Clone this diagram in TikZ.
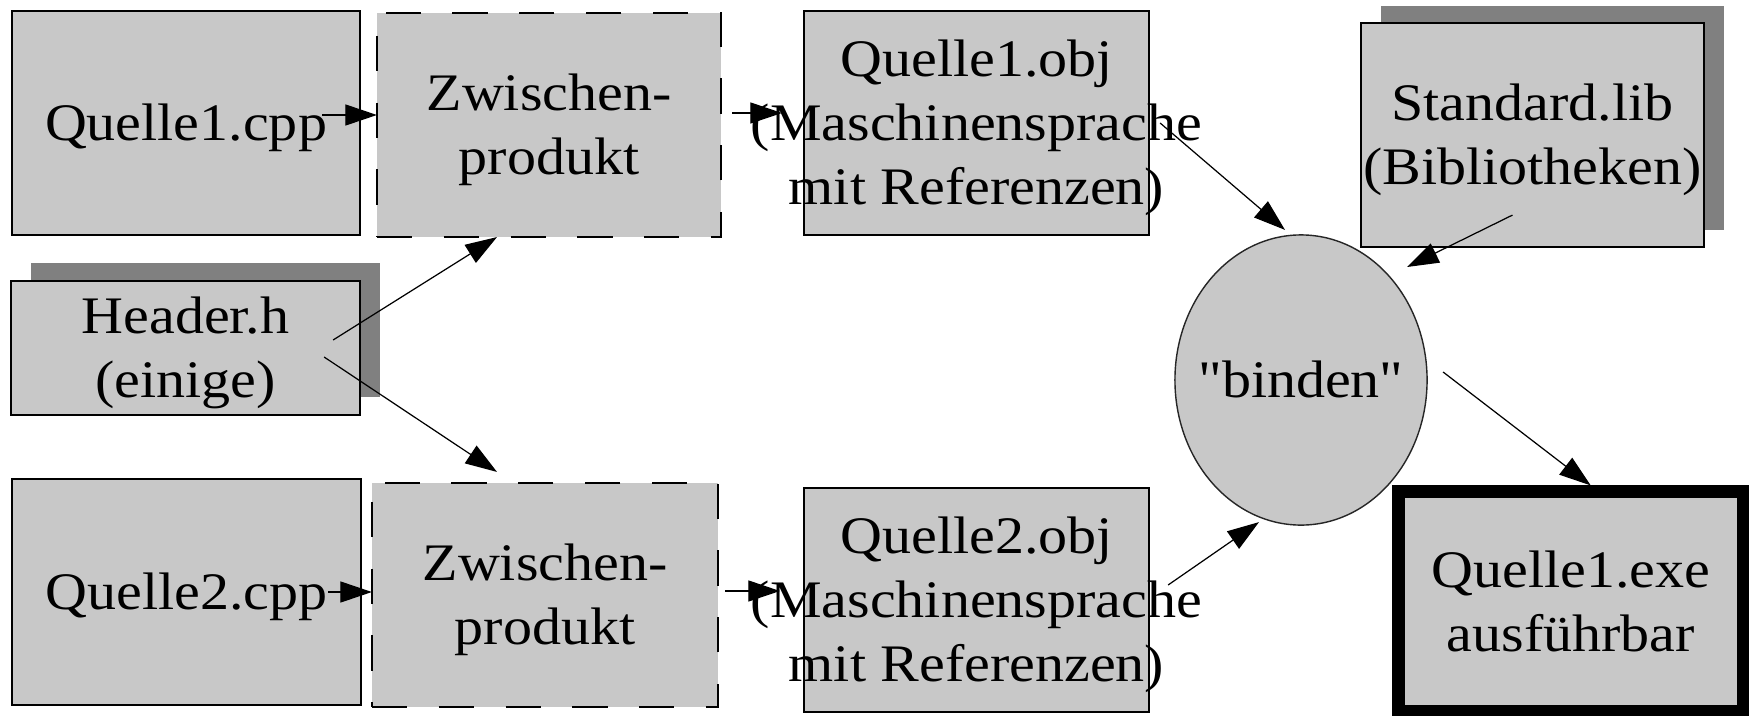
\documentclass[tikz,border=0pt]{standalone}
\usepackage{fontspec}
\setmainfont{Liberation Serif}[FakeStretch=1.1]
\newfontfamily\plainserif{Liberation Serif}[FakeStretch=1.1]
\usetikzlibrary{arrows.meta,shapes.geometric,calc}
\definecolor{boxgray}{RGB}{200,200,200}
\definecolor{shadowgray}{RGB}{128,128,128}
\newcommand\lnstrut{\rule[-3.7pt]{0pt}{17.35pt}}
\begin{document}
\begin{tikzpicture}[x=0.01cm,y=-0.01cm,
  every node/.style={font=\fontsize{15pt}{18.2pt}\selectfont, align=center, inner sep=0pt, outer sep=0pt},
  box/.style={rectangle, draw=black, line width=0.6pt, fill=boxgray},
  dashbox/.style={box, dash pattern=on 10pt off 9pt},
  shadowbox/.style={rectangle, fill=shadowgray, draw=none},
  exebox/.style={rectangle, draw=black, line width=3.7pt, fill=boxgray},
  bindshape/.style={ellipse, draw=black!85, line width=0.4pt, fill=boxgray},
  arr/.style={-{Triangle[length=9pt,width=6pt]}, line width=0.35pt}
]
\fill[white] (0,0) rectangle (1749,715);
\useasboundingbox (0,0) rectangle (1749,715);

% shadows
\node[shadowbox, minimum width=3.49cm, minimum height=1.34cm] (hdrsh) at (205.5,330) {};
\node[shadowbox, minimum width=3.43cm, minimum height=2.24cm] (libsh) at (1552.5,118) {};

% top row
\node[box, minimum width=3.48cm, minimum height=2.24cm] (q1cpp) at (186,123) {\lnstrut Quelle1.cpp};
\node[dashbox, minimum width=3.44cm, minimum height=2.24cm] (z1) at (549,125) {\lnstrut Zwischen-\\\lnstrut produkt};
\node[box, minimum width=3.45cm, minimum height=2.24cm] (o1) at (976.5,123)
  {\lnstrut Quelle1.obj\\\makebox[0pt]{\lnstrut(Maschinensprache}\\\makebox[0pt]{\lnstrut mit Referenzen)}};
\node[box, minimum width=3.43cm, minimum height=2.24cm] (lib) at (1532.5,135) {\lnstrut Standard.lib\\\lnstrut(Bibliotheken)};

% header
\node[box, minimum width=3.49cm, minimum height=1.34cm] (hdr) at (185.5,348) {\lnstrut Header.h\\\lnstrut(einige)};

% binden
\node[bindshape, minimum width=2.52cm, minimum height=2.9cm] (bind) at (1301,380) {\makebox[0pt]{\lnstrut\plainserif "binden"}};

% bottom row
\node[box, minimum width=3.49cm, minimum height=2.26cm] (q2cpp) at (186.5,592) {\lnstrut Quelle2.cpp};
\node[dashbox, minimum width=3.46cm, minimum height=2.24cm] (z2) at (545,595) {\lnstrut Zwischen-\\\lnstrut produkt};
\node[box, minimum width=3.45cm, minimum height=2.24cm] (o2) at (976.5,600)
  {\lnstrut Quelle2.obj\\\makebox[0pt]{\lnstrut(Maschinensprache}\\\makebox[0pt]{\lnstrut mit Referenzen)}};
\node[exebox, minimum width=3.445cm, minimum height=2.2cm] (exe) at (1570.75,601.5) {\lnstrut Quelle1.exe\\\lnstrut ausführbar};

% connectors
\draw[arr] ($(q1cpp.east)+(-38,-8)$) -- ($(z1.west)+(0,-10)$);
\draw[arr] ($(z1.east)+(11,-12)$) -- ($(o1.west)+(-22,-10)$);
\draw[arr] ($(hdr.east)+(-27,-8)$) -- ($(z1.south)+(-52,0)$);
\draw[arr] ($(hdr.east)+(-36,9)$) -- ($(z2.north)+(-48,-11)$);
\draw[arr] ($(q2cpp.east)+(-33,0)$) -- ($(z2.west)+(0,-3)$);
\draw[arr] ($(z2.east)+(7,-4)$) -- ($(o2.west)+(-24,-9)$);
\draw[arr] ($(o1.east)+(11,0)$) -- ($(bind.north)+(-16,-5)$);
\draw[arr] ($(lib.south)+(-20,-32)$) -- ($(bind.center)+(106,-113)$);
\draw[arr] ($(o2.east)+(19,-15)$) -- ($(bind.south)+(-42,-3)$);
\draw[arr] ($(bind.east)+(16,-8)$) -- ($(exe.north)+(20,-6)$);
\end{tikzpicture}
\end{document}
